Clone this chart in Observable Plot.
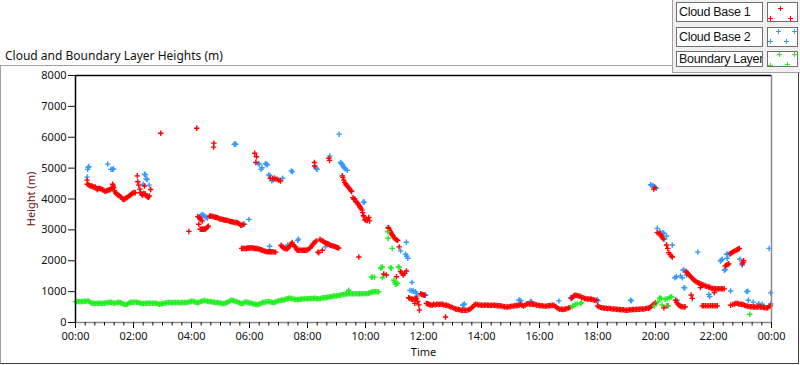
<!DOCTYPE html>
<html><head><meta charset="utf-8">
<script src="https://cdn.jsdelivr.net/npm/d3@7"></script>
<script src="https://cdn.jsdelivr.net/npm/@observablehq/plot@0.6"></script>
<style>
html,body{margin:0;padding:0;background:#fff;}
#wrap{position:relative;width:800px;height:365px;overflow:hidden;font-family:"Noto Sans",sans-serif;color:#111;}
#chart{position:absolute;left:0;top:0;}
#frame{position:absolute;left:0;top:65px;width:797px;height:297px;border-left:1px solid #a0a0a0;border-top:1px solid #a0a0a0;border-right:1px solid #404040;border-bottom:1px solid #404040;pointer-events:none;}
#legendArea{position:absolute;left:672px;top:0;width:128px;height:73px;box-sizing:border-box;background:#f0f0f0;border-left:1px solid #a0a0a0;border-bottom:1px solid #a0a0a0;}
.lbox{position:absolute;left:676px;width:87px;box-sizing:border-box;border:1px solid #707070;background:#fff;font-family:"Liberation Sans",Arial,sans-serif;font-size:12.5px;letter-spacing:-0.3px;padding-left:2px;white-space:nowrap;overflow:hidden;}
.sbox{position:absolute;left:767px;width:31px;box-sizing:border-box;border:1px solid #707070;background:#fff;}
#title{position:absolute;left:5px;top:47px;font-size:12px;white-space:nowrap;}
svg g[aria-label="y-axis label"] text{fill:#6a0f0f;}
</style></head>
<body><div id="wrap">
<div id="chart"></div>
<div id="frame"></div>
<div id="title">Cloud and Boundary Layer Heights (m)</div>
<div id="legendArea"></div>
<div id="legend"></div>
</div>
<script>
// ---- Data (time in hours since 00:00, height in m) ----
const cloudBase1 = [
[0.40,4610],[0.41,4480],[0.44,4470],[0.47,4450],[0.50,4430],[0.54,4410],[0.57,4420],[0.60,4400],[0.64,4380],[0.68,4390],
[0.71,4350],[0.75,4310],[0.78,4340],[0.82,4340],[0.86,4330],[0.90,4320],[0.94,4300],[0.98,4280],[1.02,4240],[1.06,4260],
[1.10,4280],[1.14,4290],[1.18,4300],[1.22,4320],[1.26,4360],[1.28,4480],[1.30,4420],[1.32,4370],[1.35,4260],[1.38,4200],
[1.42,4160],[1.46,4130],[1.50,4110],[1.54,4080],[1.58,4060],[1.62,4000],[1.66,3980],[1.70,4000],[1.74,4030],[1.78,4050],
[1.82,4080],[1.86,4110],[1.90,4130],[1.94,4160],[1.98,4200],[2.02,4210],[2.06,4200],
[2.13,4750],[2.15,4560],[2.18,4450],[2.22,4320],[2.24,4210],[2.28,4160],[2.31,4120],[2.35,4180],[2.38,4420],[2.40,4170],
[2.44,4100],[2.48,4070],[2.52,4060],[2.55,4100],[2.59,4310],
[2.94,6130],[4.18,6290],[4.77,5810],[4.76,5680],[6.18,5480],[6.24,5370],[6.22,5180],
[6.72,4670],[6.80,4660],[6.88,4650],[6.95,4640],[7.01,4610],[7.07,4580],
[8.24,5180],[8.25,5070],
[3.91,2950],[4.22,3430],[4.25,3180],[4.27,3400],[4.29,3370],[4.32,3330],[4.37,3290],[4.30,3020],[4.34,3020],[4.37,3020],
[4.41,3020],[4.45,3030],[4.48,3030],[4.52,3060],[4.56,3100],[4.58,3120],[4.62,3440],[4.66,3450],[4.70,3440],[4.74,3430],
[4.78,3420],[4.82,3410],[4.86,3400],[4.90,3390],[4.94,3370],[4.98,3350],[5.02,3350],[5.06,3340],[5.10,3330],[5.14,3320],
[5.18,3310],[5.22,3310],[5.26,3300],[5.30,3280],[5.34,3270],[5.38,3260],[5.42,3260],[5.46,3250],[5.50,3240],[5.54,3240],
[5.58,3230],[5.62,3210],[5.66,3180],[5.70,3150],[5.74,3150],[5.78,3180],
[5.73,2400],[5.77,2400],[5.81,2400],[5.85,2400],[5.89,2400],[5.93,2410],[5.97,2410],[6.01,2410],[6.05,2420],[6.09,2410],
[6.13,2410],[6.17,2400],[6.21,2400],[6.25,2400],[6.29,2390],[6.33,2380],[6.37,2360],[6.41,2350],[6.45,2340],[6.49,2320],
[6.53,2310],[6.57,2300],[6.61,2290],[6.65,2290],[6.69,2290],[6.73,2290],[6.77,2290],[6.81,2290],[6.85,2280],[6.90,2280],
[7.09,2500],[7.12,2460],[7.15,2430],[7.18,2420],[7.22,2400],[7.26,2390],[7.30,2390],[7.34,2420],[7.38,2470],[7.41,2490],
[7.44,2540],[7.47,2590],[7.50,2520],[7.55,2470],[7.59,2450],[7.62,2380],[7.65,2340],[7.70,2340],[7.74,2340],[7.78,2340],
[7.82,2340],[7.86,2340],[7.90,2340],[7.94,2340],[7.98,2340],[8.02,2360],[8.06,2400],[8.10,2420],[8.14,2470],[8.18,2530],
[8.22,2570],[8.26,2610],[8.30,2640],[8.36,2280],[8.39,2260],[8.43,2700],[8.47,2660],[8.51,2340],[8.53,2640],[8.56,2620],
[8.60,2580],[8.64,2570],[8.68,2550],[8.72,2540],[8.76,2520],[8.80,2500],[8.84,2490],[8.88,2480],[8.92,2470],[8.96,2450],
[9.00,2440],[9.04,2420],[9.08,2410],
[8.74,5320],[8.76,5250],[9.20,4750],[9.22,4700],[9.25,4610],[9.28,4540],[9.31,4490],[9.34,4450],[9.38,4410],[9.42,4370],
[9.46,4320],[9.50,4270],[9.52,4240],[9.57,4040],[9.60,3990],[9.63,4000],[9.67,3920],[9.71,3880],[9.75,3830],[9.79,3780],
[9.81,3740],[9.84,3700],[9.88,3640],[9.90,3560],[9.93,3460],[9.95,3420],[9.98,3330],[10.02,3310],[10.06,3300],[10.11,3400],
[10.14,3290],[9.77,2120],
[10.78,3080],[10.80,3050],[10.83,2990],[10.86,2940],[10.89,2890],[10.92,2840],[10.95,2800],[10.99,2740],[11.03,2700],[11.07,2680],
[11.11,2660],[11.16,2450],
[10.63,1570],[10.72,1540],[11.07,1480],[11.21,1650],[11.25,1600],[11.30,1540],[11.35,1590],[11.41,1670],
[11.49,800],[11.53,780],[11.58,760],[11.62,750],[11.67,750],[11.72,770],[11.76,780],[11.70,620],[11.80,680],[11.84,570],
[11.86,400],[11.90,930],[11.94,910],[11.98,900],[12.01,890],[12.04,880],
[12.10,620],[12.13,610],[12.17,600],[12.21,580],[12.25,570],[12.30,560],[12.35,590],[12.40,570],[12.45,590],[12.50,590],
[12.55,580],[12.60,590],[12.65,590],[12.70,570],[12.75,560],[12.80,560],[12.85,540],[12.90,520],[12.95,500],[13.00,490],
[13.05,460],[13.10,440],[13.15,430],[13.20,420],[13.25,410],[13.30,400],[13.35,400],[13.40,400],[13.45,400],[13.50,400],
[13.55,410],[13.60,430],[13.65,470],[13.70,500],[13.75,570],[13.80,590],[13.85,580],[13.90,570],[13.95,570],[14.00,560],
[14.05,560],[14.10,560],[14.15,570],[14.20,560],[14.25,560],[14.30,550],[14.35,560],[14.40,560],[14.45,560],[14.50,550],
[14.55,540],[14.60,540],[14.65,540],[14.70,530],[14.75,520],[14.80,510],[14.85,500],[14.90,500],[14.95,510],[15.00,520],
[15.05,530],[15.10,530],[15.15,540],[15.20,550],[15.25,550],[15.30,560],[12.76,180],
[15.35,590],[15.40,560],[15.45,530],[15.50,560],[15.55,600],[15.60,610],[15.65,600],[15.70,590],[15.75,590],[15.80,590],
[15.85,580],[15.90,570],[15.95,560],[16.00,550],[16.05,540],[16.10,540],[16.15,530],[16.20,530],[16.25,530],[16.30,540],
[16.35,540],[16.40,550],[16.45,560],[16.50,560],[16.55,520],[16.60,480],[16.65,450],[16.70,430],[16.75,430],[16.80,420],
[16.85,430],[16.90,440],[16.95,450],[17.00,470],[17.05,490],[17.10,780],[17.14,810],[17.18,860],[17.22,880],[17.26,880],
[17.30,870],[17.35,860],[17.40,850],[17.45,820],[17.50,800],[17.55,780],[17.60,770],[17.65,760],[17.70,760],[17.75,760],
[17.80,750],[17.85,740],[17.90,720],[17.95,720],[18.00,540],[18.05,510],[18.10,490],[18.15,480],[18.20,470],[18.25,460],
[18.30,460],[18.35,450],[18.40,460],[18.45,450],[18.50,440],[18.55,440],[18.60,440],[18.65,430],[18.70,420],[18.75,420],
[18.80,410],[18.85,410],[18.90,410],[18.95,400],[19.00,400],[19.05,400],[19.10,410],[19.15,410],[19.20,420],[19.25,420],
[19.30,420],[19.35,430],[19.40,430],[19.45,430],[19.50,440],[19.55,440],[19.60,440],[19.65,450],[19.70,460],[19.75,460],
[19.80,480],[19.85,520],[19.90,560],[19.95,600],[20.00,640],
[19.94,4320],[19.98,4370],[20.06,2910],[20.12,2880],[20.17,2860],[20.20,2800],[20.23,2750],[20.27,2700],[20.38,2510],[20.42,2400],
[20.46,2260],[20.50,2200],[20.55,2150],[20.58,2120],
[20.29,480],[20.40,540],[20.69,720],[20.73,650],[20.77,600],[20.80,570],[20.84,540],[20.88,520],[20.92,510],[20.98,500],[21.02,510],
[21.06,1650],[21.09,1610],[21.12,1580],[21.16,1540],[21.20,1500],[21.24,1460],[21.28,1420],[21.32,1390],[21.36,1350],[21.40,1320],
[21.45,1300],[21.49,1280],[21.53,1260],[21.58,1240],[21.62,1220],[21.67,1210],[21.72,1180],[21.77,1170],[21.82,1150],[21.87,1140],
[21.92,1110],[21.97,1100],[22.02,1100],[22.07,1090],[22.12,1090],[22.17,1090],[22.22,1090],[22.27,1090],[22.32,1090],[22.37,1090],
[21.23,890],[21.27,780],[21.55,1130],[22.03,970],
[22.41,1830],[22.45,1860],[22.50,1880],[22.53,1900],[22.58,2230],[22.62,2260],[22.66,2280],[22.70,2300],[22.74,2320],[22.78,2340],
[22.82,2360],[22.86,2380],[22.89,2400],[22.99,1900],[23.02,1940],[23.04,2000],
[21.61,540],[21.66,540],[21.72,540],[21.78,540],[21.84,540],[21.90,540],[21.96,540],[22.02,540],[22.08,540],[22.13,540],
[22.59,560],[22.66,580],[22.72,600],[22.77,620],[22.82,620],[22.87,600],[22.92,590],[22.97,590],[23.02,580],[23.07,560],
[23.12,540],[23.17,530],[23.22,520],[23.27,510],[23.32,510],[23.37,500],[23.42,500],[23.47,500],[23.52,500],[23.57,510],
[23.62,500],[23.67,490],[23.72,490],[23.77,480],[23.82,480],[23.87,480],[23.92,520],[23.96,540]
];

const cloudBase2 = [
[0.40,4710],[0.42,4960],[0.44,5030],[0.46,5050],[1.11,5130],[1.22,4960],[1.27,4960],[1.31,4970],[2.33,4480],[2.38,4800],
[2.41,4780],[2.44,4650],[2.47,4630],[2.54,4450],
[4.32,3460],[4.36,3490],[4.39,3480],[4.43,3470],[4.46,3430],[4.50,3400],[4.55,3380],[5.47,5770],[5.50,5780],[5.53,5770],
[5.83,3180],[5.98,3340],
[6.30,5150],[6.34,5130],[6.40,4960],[6.43,5010],[6.55,5140],[6.58,5130],[6.62,5110],[6.66,4780],[6.70,4760],[6.77,4590],
[6.82,4620],[6.86,4690],[7.14,4670],[7.44,4910],[7.48,4880],[8.30,4990],[8.33,4960],[6.69,2470],[7.32,2510],[7.66,2660],[7.69,2700],
[8.28,5020],[8.77,5390],[9.09,6100],[9.14,5180],[9.17,5150],[9.20,5120],[9.23,5060],[9.26,5020],[9.30,4980],[9.37,4930],[8.62,2450],
[9.92,3900],[9.96,3900],[11.41,2600],[11.21,2320],[11.38,2210],[11.42,2150],[11.46,2080],[11.60,1300],[11.53,1040],[11.60,1030],
[11.65,1020],[11.72,1000],[11.78,860],[12.07,890],[11.75,950],
[13.35,560],[13.39,570],[13.41,600],[15.29,730],[15.32,710],[15.36,700],[15.69,680],[15.73,670],[16.67,700],[17.07,800],
[17.12,820],[17.99,730],[18.02,700],[19.14,720],[19.17,700],
[19.83,4460],[19.88,4440],[19.92,4420],[19.96,4400],[20.03,4350],[20.06,3050],[20.15,2950],[20.25,2900],[20.29,2890],[20.31,2700],
[20.38,2800],[20.58,2510],[21.46,2280],
[20.67,1450],[20.72,1480],[20.86,1510],[20.92,1450],[20.95,1690],[20.98,1700],[21.07,1540],[20.98,1130],[21.01,1120],[20.74,720],
[21.84,910],[21.87,840],
[22.24,1990],[22.27,2020],[22.30,2050],[22.38,1690],[22.41,1720],[22.45,2210],[22.50,2220],[22.56,2230],[22.47,2080],[22.91,2050],
[22.99,1860],[22.59,1020],[23.14,1000],[23.18,1010],[23.20,720],[23.37,660],[23.56,620],[23.68,590],[23.92,2400],[23.97,960],[23.97,600]
];

// Boundary layer: regularly sampled every 3 minutes from 00:00 to 10:27
const boundaryStart = 0;
const boundaryStep = 0.05;
const boundaryHeights = [
677,677,680,675,678,680,685,690,700,695,660,625,622,625,620,625,622,625,620,625,
625,630,640,650,658,650,630,625,635,650,658,640,620,600,585,580,600,630,655,658,
658,660,658,650,640,625,612,615,620,625,625,625,628,625,622,625,620,600,593,600,
615,625,632,640,645,645,645,640,645,650,645,645,640,645,645,648,645,645,660,680,
690,685,670,655,645,650,670,690,705,710,700,690,680,677,670,660,650,645,645,640,
630,615,612,620,640,667,690,710,722,710,690,677,660,640,615,612,630,667,660,645,
630,625,615,600,590,580,585,600,625,645,650,660,670,677,670,660,645,650,665,690,
700,710,720,728,732,750,770,787,785,775,765,755,748,742,745,752,760,765,765,768,
770,772,775,778,782,787,780,770,765,780,795,800,805,810,815,825,835,845,855,859,
860,870,880,890,900,910,920,930,933,935,930,928,930,933,935,933,930,933,935,933,
935,940,950,965,980,995,998,1000,995,998
];
const boundaryExtra = [
[9.42,1043],[10.77,2940],[10.78,2730],[10.92,2400],[10.58,1800],[10.52,1760],[10.55,1780],[10.86,1780],[10.89,1760],[11.13,1800],
[11.16,1790],[10.20,1470],[10.24,1470],[10.31,1470],[10.58,1450],[10.98,1370],[11.03,1240],[11.06,1250],[11.11,1270],[11.00,1300],
[17.13,520],[17.17,540],[17.24,590],[17.30,600],[17.41,620],[17.45,640],
[19.96,535],[20.08,664],[20.14,784],[20.17,790],[20.20,780],[20.33,752],[20.40,770],[20.48,804],[20.53,826],[20.56,830],
[20.23,567],[20.44,540],[23.25,266]
];

const seriesNames = ["Cloud Base 1","Cloud Base 2","Boundary Layer"];
const seriesColors = ["#ff0000","#3399ff","#22ee22"];

const xDomain = [0, 24];
const yDomain = [0, 8000];
const xTicks = [0,2,4,6,8,10,12,14,16,18,20,22,24];
const xTickLabels = ["00:00","02:00","04:00","06:00","08:00","10:00","12:00","14:00","16:00","18:00","20:00","22:00","00:00"];
const xMinorStep = 1/3;
const yTicks = [0,1000,2000,3000,4000,5000,6000,7000,8000];
const yTickLabels = ["0","1000","2000","3000","4000","5000","6000","7000","8000"];

// ---- Build ----
const toRows = (arr, s) => arr.map(([t,h]) => ({t, h, s}));
const boundary = boundaryHeights.map((h,i) => ({t: boundaryStart + i*boundaryStep, h, s: seriesNames[2]}))
  .concat(toRows(boundaryExtra, seriesNames[2]));
const cb1 = toRows(cloudBase1, seriesNames[0]);
const cb2 = toRows(cloudBase2, seriesNames[1]);
const minorTicks = d3.range(xDomain[0], xDomain[1] + 1e-6, xMinorStep).filter(v => !xTicks.some(t => Math.abs(t - v) < 1e-6));

const dotOpts = (c) => ({x:"t", y:"h", symbol:"plus", r:1.9, stroke:c, strokeWidth:1.4});

const chart = Plot.plot({
  width: 800, height: 365,
  marginLeft: 75, marginRight: 29, marginTop: 75, marginBottom: 43,
  style: {background:"transparent", fontFamily:"'Noto Sans', sans-serif", fontSize:"11px", color:"#111", overflow:"visible"},
  x: {domain: xDomain},
  y: {domain: yDomain},
  marks: [
    Plot.dot(cb2, dotOpts(seriesColors[1])),
    Plot.dot(cb1, dotOpts(seriesColors[0])),
    Plot.dot(boundary, dotOpts(seriesColors[2])),
    Plot.ruleY([yDomain[0]], {stroke:"#8a8a8a", strokeWidth:1.5}),
    Plot.ruleX([xDomain[1]], {stroke:"#8a8a8a", strokeWidth:1.5}),
    Plot.ruleX([xDomain[0]], {stroke:"#000", strokeWidth:1.5}),
    Plot.ruleY([yDomain[1]], {stroke:"#000", strokeWidth:1.5}),
    Plot.axisY(yTicks, {tickSize:7, tickPadding:2, fontSize:11, tickFormat:(d) => yTickLabels[yTicks.indexOf(d)], label:"Height (m)", labelArrow:"none", labelAnchor:"center", labelOffset:48}),
    Plot.axisX(xTicks, {tickSize:6, tickPadding:4, fontSize:11, tickFormat:(d) => xTickLabels[xTicks.indexOf(d)], label:"Time", labelArrow:"none", labelAnchor:"center", labelOffset:33}),
    Plot.axisX(minorTicks, {tickSize:3.5, tickFormat:() => "", label:null})
  ]
});
document.getElementById("chart").appendChild(chart);

// ---- Legend ----
const legend = document.getElementById("legend");
const rowTops = [2, 27, 51];
const rowHeights = [20, 20, 16];
const swatchCrosses = [
  [[12,5],[2,15],[22,15]],
  [[10,3],[26,3],[2,13],[18,13]],
  [[11,2],[26,2],[2,13],[19,12]]
];
seriesNames.forEach((name, i) => {
  const b = document.createElement("div");
  b.className = "lbox";
  b.style.top = rowTops[i] + "px";
  b.style.height = rowHeights[i] + "px";
  b.style.lineHeight = (rowHeights[i] - 2) + "px";
  b.textContent = name;
  legend.appendChild(b);
  const s = document.createElement("div");
  s.className = "sbox";
  s.style.top = rowTops[i] + "px";
  s.style.height = rowHeights[i] + "px";
  const ns = "http://www.w3.org/2000/svg";
  const svg = document.createElementNS(ns, "svg");
  svg.setAttribute("width", 29); svg.setAttribute("height", rowHeights[i] - 2);
  svg.style.display = "block";
  swatchCrosses[i].forEach(([cx, cy]) => {
    const p = document.createElementNS(ns, "path");
    p.setAttribute("d", `M${cx-2},${cy+0.5}h5M${cx+0.5},${cy-2}v5`);
    p.setAttribute("stroke", seriesColors[i]);
    p.setAttribute("stroke-width", 1);
    svg.appendChild(p);
  });
  s.appendChild(svg);
  legend.appendChild(s);
});
</script>
</body></html>
